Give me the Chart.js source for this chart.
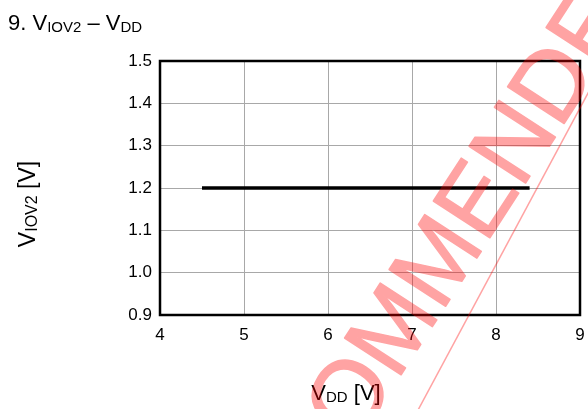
<!DOCTYPE html>
<html>
<head>
<meta charset="utf-8">
<script src="https://cdn.jsdelivr.net/npm/chart.js@4/dist/chart.umd.min.js"></script>
<style>
html,body{margin:0;padding:0;background:#fff;}
#wrap{width:588px;height:409px;position:relative;}
</style>
</head>
<body>
<div id="wrap"><canvas id="c" width="588" height="409"></canvas></div>
<script>
// ---- data ----
const vddValues = [4.5, 8.4];
const viov2Values = [1.2, 1.2];
const xTickValues = [4, 5, 6, 7, 8, 9];
const yTickValues = [0.9, 1.0, 1.1, 1.2, 1.3, 1.4, 1.5];
const chartTitle = [{t: '9. V'}, {t: 'IOV2', sub: true}, {t: ' \u2013 V'}, {t: 'DD', sub: true}];
const yTitle = [{t: 'V'}, {t: 'IOV2', sub: true}, {t: ' [V]'}];
const xTitle = [{t: 'V'}, {t: 'DD', sub: true}, {t: ' [V]'}];
const watermarkText = 'NOT RECOMMENDED FOR NEW DESIGN';

const FONT = "'Liberation Sans', Arial, Helvetica, sans-serif";

function richWidth(ctx, parts, main, sub) {
  let w = 0;
  parts.forEach(p => { ctx.font = (p.sub ? sub : main) + 'px ' + FONT; w += ctx.measureText(p.t).width; });
  return w;
}
function drawRich(ctx, parts, x, y, main, sub, align) {
  const w = richWidth(ctx, parts, main, sub);
  let cx = align === 'center' ? x - w / 2 : x;
  ctx.textAlign = 'left';
  ctx.textBaseline = 'alphabetic';
  ctx.fillStyle = '#000';
  parts.forEach(p => {
    ctx.font = (p.sub ? sub : main) + 'px ' + FONT;
    ctx.fillText(p.t, cx, y + (p.sub ? 2 : 0));
    cx += ctx.measureText(p.t).width;
  });
}

const decor = {
  id: 'decor',
  afterDraw(chart) {
    const ctx = chart.ctx;
    const a = chart.chartArea;
    ctx.save();
    // frame
    ctx.strokeStyle = '#000';
    ctx.lineWidth = 2.5;
    ctx.strokeRect(a.left, a.top, a.right - a.left, a.bottom - a.top);
    // titles
    drawRich(ctx, chartTitle, 8, 30, 22, 15, 'left');
    drawRich(ctx, xTitle, 346, 400, 22, 15, 'center');
    ctx.save();
    ctx.translate(35, 204);
    ctx.rotate(-Math.PI / 2);
    drawRich(ctx, yTitle, 0, 0, 23, 16, 'center');
    ctx.restore();
    // watermark (drawn opaque offscreen, then composited translucent)
    const off = document.createElement('canvas');
    off.width = chart.width; off.height = chart.height;
    const o = off.getContext('2d');
    const fs = 98;
    o.font = fs + 'px ' + FONT;
    o.fillStyle = '#ff0000';
    o.strokeStyle = '#ff0000';
    o.lineWidth = 1.5;
    o.lineJoin = 'round';
    o.save();
    o.translate(474, 198);
    o.rotate(-57 * Math.PI / 180);
    const pre = o.measureText('NOT RECOMM').width;
    const wE = o.measureText('E').width;
    o.textAlign = 'left';
    o.textBaseline = 'alphabetic';
    const tx = -(pre + wE / 2), ty = fs * 0.716 / 2;
    o.fillText(watermarkText, tx, ty);
    o.strokeText(watermarkText, tx, ty);
    o.restore();
    o.lineWidth = 1.5;
    o.beginPath();
    o.moveTo(417, 412);
    o.lineTo(595, 80);
    o.stroke();
    ctx.globalAlpha = 0.36;
    ctx.drawImage(off, 0, 0);
    ctx.restore();
  }
};

const points = vddValues.map((x, i) => ({x: x, y: viov2Values[i]}));

new Chart(document.getElementById('c'), {
  type: 'scatter',
  data: {
    datasets: [{
      data: points,
      showLine: true,
      borderColor: '#000',
      borderWidth: 3.5,
      pointRadius: 0,
      fill: false
    }]
  },
  options: {
    responsive: false,
    animation: false,
    events: [],
    layout: {padding: {left: 0, top: 61, right: 8, bottom: 0}},
    plugins: {legend: {display: false}, tooltip: {enabled: false}, title: {display: false}},
    scales: {
      x: {
        type: 'linear', min: 4, max: 9,
        afterBuildTicks: s => { s.ticks = xTickValues.map(v => ({value: v})); },
        afterFit: s => { s.height = 94; s.paddingLeft = 0; s.paddingRight = 0; },
        grid: {color: '#a8a8a8', lineWidth: 1, drawTicks: false},
        border: {display: false},
        ticks: {color: '#000', font: {family: FONT, size: 17}, padding: 10, maxRotation: 0, callback: v => String(v)}
      },
      y: {
        type: 'linear', min: 0.9, max: 1.5,
        afterBuildTicks: s => { s.ticks = yTickValues.map(v => ({value: v})); },
        afterFit: s => { s.width = 160; s.paddingTop = 0; s.paddingBottom = 0; },
        grid: {color: '#a8a8a8', lineWidth: 1, drawTicks: false},
        border: {display: false},
        ticks: {color: '#000', font: {family: FONT, size: 17}, padding: 8, callback: v => Number(v).toFixed(1)}
      }
    }
  },
  plugins: [decor]
});
</script>
</body>
</html>
